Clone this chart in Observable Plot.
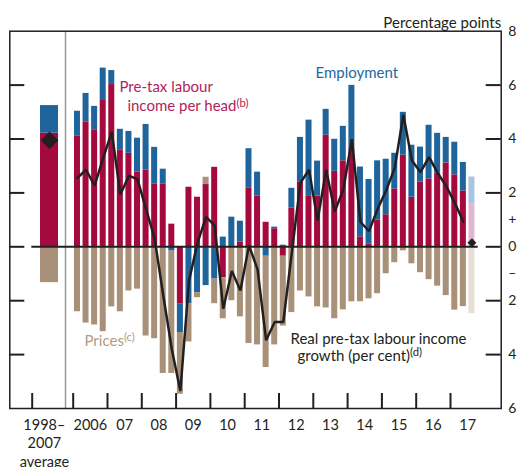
<!DOCTYPE html>
<html><head><meta charset="utf-8">
<script src="https://cdn.jsdelivr.net/npm/d3@7"></script>
<script src="https://cdn.jsdelivr.net/npm/@observablehq/plot@0.6"></script>
<style>body{margin:0;background:#fff}#chart{position:absolute;left:0;top:0}</style>
</head><body><div id="chart"></div>
<script>
// ---- data (percentage points), quarterly from 2006 Q1; last quarter is a projection
const firstYear = 2006;
const incomePerHead = [4.10,4.62,4.32,5.43, 6.02,3.58,3.47,2.77, 2.84,2.32,2.32,0.84,
  -2.11,2.21,1.84,2.31, 2.95,-1.15,0.00,0.17, 2.17,1.88,0.91,0.67, -0.35,1.43,2.39,1.87,
  1.88,4.14,2.80,3.19, 3.67,0.37,0.11,0.99, 1.19,2.15,3.40,1.84, 2.40,2.52,2.73,3.11,
  2.67,2.07,1.58];
const employment = [0.93,1.07,0.89,1.20, 0.52,0.78,0.81,1.26, 1.70,1.37,0.56,-0.16,
  -1.07,-2.11,-1.70,-1.44, -1.20,0.36,1.10,0.78, 1.47,0.89,-0.35,0.06, 0.06,0.74,1.67,2.83,
  1.30,0.96,1.19,1.28, 2.32,2.59,2.39,2.20, 2.06,1.32,1.59,1.93, 1.30,1.99,1.48,0.95,
  1.21,1.06,1.01];
const prices = [-2.41,-2.83,-2.90,-3.15, -2.23,-2.41,-1.64,-1.57, -3.31,-3.41,-4.70,-4.54,
  -2.29,-1.42,-0.19,0.27, -0.91,-1.52,-2.00,-2.60, -3.59,-3.64,-4.13,-3.64, -2.59,-2.44,-1.64,-1.86,
  -2.23,-2.27,-2.67,-2.34, -2.04,-2.04,-1.93,-1.74, -1.00,-0.59,-0.15,-0.63, -0.96,-1.22,-1.46,-1.81,
  -2.35,-2.22,-2.48];
const realGrowth = [2.56,2.86,2.27,3.30, 4.26,1.94,2.64,2.50, 1.40,0.30,-1.80,-3.80,
  -5.35,-1.27,0.15,1.11, 0.79,-2.30,-0.90,-1.62, 0.05,-0.84,-3.47,-2.79, -2.79,-0.20,2.37,2.86,
  0.97,2.86,1.31,2.12, 3.99,0.92,0.58,1.40, 2.10,2.93,4.90,3.20, 2.77,3.33,2.74,2.25,
  1.63,0.93];
const projectedRealGrowth = 0.15;
const avgIncome = 4.22, avgEmployment = 1.02, avgPrices = -1.33, avgRealGrowth = 3.95;
const xLabels = ["1998–\n2007\naverage","2006","07","08","09","10","11","12","13","14","15","16","17"];
const rightTickValues = [8,6,4,2,1,0,-1,-2,-4,-6];
const rightTickLabels = ["8","6","4","2","+","0","–","2","4","6"];

// ---- layout constants in x-scale units (years)
const avgPos = 2005.31, avgLabelPos = 2005.16, dividerPos = 2005.776;
const xTickPositions = [2004.805, 2006,2007,2008,2009,2010,2011,2012,2013,2014,2015,2016,2017];
const xLabelPositions = [avgLabelPos, ...d3.range(2006, 2018).map(y => y + 0.5)];
const halfBar = 0.0875, halfAvg = 0.2625;

const nq = incomePerHead.length;
const qt = i => firstYear + (i + 0.5) / 4;
const rows = [];
for (let i = 0; i < nq; i++) {
  const proj = i === nq - 1 ? "F" : "";
  rows.push({t: qt(i), v: incomePerHead[i], s: "income" + proj});
  rows.push({t: qt(i), v: employment[i], s: "employment" + proj});
  rows.push({t: qt(i), v: prices[i], s: "prices" + proj});
}
const avgRows = [
  {v: avgIncome, s: "income"}, {v: avgEmployment, s: "employment"}, {v: avgPrices, s: "prices"}
];
const lineRows = realGrowth.map((v, i) => ({t: qt(i), v}));

const W = 517, H = 467, mL = 9.3, mR = 16.3, mT = 30.7, mB = 59;
const innerW = W - mL - mR, innerH = H - mT - mB;
const font = "Lato";
const ink = "#231f20";

const chart = Plot.plot({
  width: W, height: H,
  marginLeft: mL, marginRight: mR, marginTop: mT, marginBottom: mB,
  x: {type: "linear", domain: [2004.152, 2018.478], axis: null},
  y: {domain: [-6, 8], axis: null},
  color: {
    domain: ["income","employment","prices","incomeF","employmentF","pricesF"],
    range: ["#a50a3f","#1f659b","#a99078","#dfb8cf","#a9c4e0","#e7ded4"]
  },
  style: {fontFamily: font, fontSize: "15px", color: ink, background: "#fff", overflow: "visible"},
  marks: [
    Plot.rectY(avgRows, {x1: avgPos - halfAvg, x2: avgPos + halfAvg, y: "v", fill: "s"}),
    Plot.rectY(rows, {x1: d => d.t - halfBar, x2: d => d.t + halfBar, y: "v", fill: "s"}),
    Plot.ruleX([dividerPos], {stroke: "#98989a", strokeWidth: 1.5}),
    Plot.ruleY([0], {stroke: ink, strokeWidth: 2, insetLeft: 22, insetRight: 23}),
    Plot.tickY([6,4,2,0,-2,-4], {y: d => d, stroke: ink, strokeWidth: 2, insetRight: innerW - 15}),
    Plot.tickY([6,4,2,0,-2,-4], {y: d => d, stroke: ink, strokeWidth: 2, insetLeft: innerW - 15}),
    Plot.tickX(xTickPositions, {x: d => d, stroke: ink, strokeWidth: 2, insetTop: innerH - 15}),
    Plot.line(lineRows, {x: "t", y: "v", stroke: ink, strokeWidth: 2.5, strokeLinejoin: "miter"}),
    Plot.dot([avgRealGrowth], {x: avgPos, y: d => d, symbol: "diamond2", r: 8, fill: ink, stroke: "none"}),
    Plot.dot([projectedRealGrowth], {x: qt(nq - 1), y: d => d, symbol: "diamond2", r: 4, fill: ink, stroke: "none"}),
    Plot.frame({stroke: ink, strokeWidth: 1.5}),
    // annotations
    Plot.text(["Pre-tax labour"], {x: 2007.35, y: 5.91, textAnchor: "start", fill: "#b3235a", fontSize: 15}),
    Plot.text(["income per head(b)"], {x: 2007.58, y: 5.21, textAnchor: "start", fill: "#b3235a", fontSize: 15}),
    Plot.text(["Employment"], {x: 2013.065, y: 6.43, textAnchor: "start", fill: "#2468a0", fontSize: 15}),
    Plot.text(["Prices(c)"], {x: 2006.33, y: -3.49, textAnchor: "start", fill: "#b29c85", fontSize: 15}),
    Plot.text(["Real pre-tax labour income"], {x: 2012.336, y: -3.42, textAnchor: "start", fill: ink, fontSize: 15}),
    Plot.text(["growth (per cent)(d)"], {x: 2012.54, y: -4.05, textAnchor: "start", fill: ink, fontSize: 15}),
    Plot.text(["Percentage points"], {frameAnchor: "top-right", dy: -14, textAnchor: "end", fontSize: 15}),
    // axes
    Plot.axisY(rightTickValues, {anchor: "right", tickSize: 0, tickPadding: 7, textAnchor: "start",
      tickFormat: d => rightTickLabels[rightTickValues.indexOf(d)], label: null, fontSize: 14}),
    Plot.text(xLabels, {x: (d, i) => xLabelPositions[i], frameAnchor: "bottom", lineAnchor: "top",
      dy: 8, lineHeight: 1.28, fontSize: 14.5, fill: ink})
  ]
});

// superscript footnote markers
chart.querySelectorAll("text, tspan").forEach(el => {
  if (el.children.length) return;
  const m = el.textContent.match(/^(.*)(\([a-z]\))$/);
  if (!m) return;
  el.textContent = m[1];
  const sup = document.createElementNS("http://www.w3.org/2000/svg", "tspan");
  sup.setAttribute("dy", "-0.4em");
  sup.setAttribute("font-size", "0.75em");
  sup.textContent = m[2];
  el.appendChild(sup);
});
document.getElementById("chart").appendChild(chart);
</script></body></html>
